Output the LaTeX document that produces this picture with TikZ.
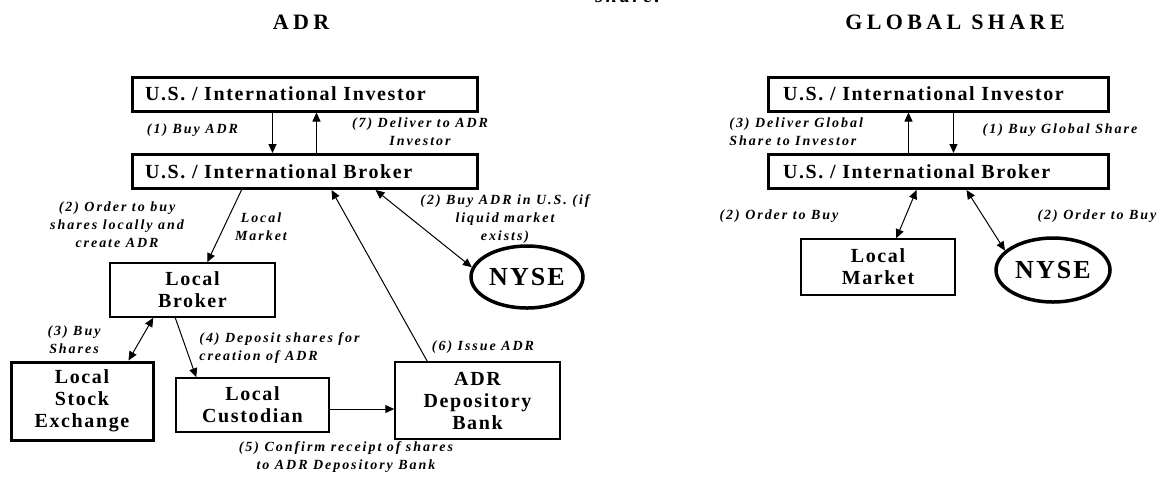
\documentclass[tikz,border=0pt]{standalone}
\usepackage{fontspec}
\setmainfont{Liberation Serif}
\newfontfamily\boxfont[LetterSpace=8]{Liberation Serif}
\newfontfamily\tagfont[LetterSpace=14]{Liberation Serif}
\newfontfamily\headfont[LetterSpace=20]{Liberation Serif}
\usetikzlibrary{arrows.meta, shapes.geometric}

\begin{document}
\begin{tikzpicture}[x = 0.5pt, y = -0.5pt,
    party/.style = {draw, line width = 1.5pt, minimum width = 172.5pt, minimum height = 17pt, inner xsep = 6.5pt, inner ysep = 0pt, text width = 159.5pt, align = left, font = \boxfont\bfseries\fontsize{10}{11}\selectfont},
    desk/.style = {draw, line width = 0.75pt, inner sep = 0pt, align = center, font = \boxfont\bfseries\fontsize{10}{11}\selectfont},
    market/.style = {draw, ellipse, line width = 1.75pt, inner sep = 0pt, minimum width = 56pt, minimum height = 31pt, font = \boxfont\bfseries\fontsize{13}{14}\selectfont},
    tag/.style = {inner sep = 0pt, align = center, font = \tagfont\bfseries\itshape\fontsize{7}{9}\selectfont},
    head/.style = {inner sep = 0pt, font = \headfont\bfseries\fontsize{11}{13}\selectfont},
    flow/.style = {line width = 0.5pt, -{Triangle[length = 4.5pt, width = 4pt]}},
    both/.style = {line width = 0.5pt, {Triangle[length = 4.5pt, width = 4pt]}-{Triangle[length = 4.5pt, width = 4pt]}}]
  \useasboundingbox (0,0) rectangle (1160,479);
  \node[anchor = base west, inner sep = 0pt, font = \tagfont\bfseries\itshape\fontsize{10}{12}\selectfont] (cut) at (595,2.5) {share.};
  \node[head] (adrhead) at (301,22) {ADR};
  \node[head] (gshead) at (955,22) {GLOBAL SHARE};

  % ADR
  \node[party] (inv) at (304.5,94) {U.S. / International Investor};
  \node[party] (brk) at (304.5,171.5) {U.S. / International Broker};
  \node[desk, minimum width = 82.5pt, minimum height = 27pt] (lbrk) at (192.5,290) {Local\\Broker};
  \node[desk, line width = 1.5pt, minimum width = 71pt, minimum height = 39pt] (lse) at (82,401) {Local\\Stock\\Exchange};
  \node[desk, minimum width = 76.5pt, minimum height = 27pt] (cust) at (252.5,405) {Local\\Custodian};
  \node[desk, minimum width = 82.5pt, minimum height = 38.5pt] (bank) at (477.5,400.5) {ADR\\Depository\\Bank};
  \node[market] (nyse) at (527,277) {NYSE};

  \draw[flow] ([xshift = 71pt]inv.south west) -- ([xshift = 71pt]brk.north west);
  \draw[flow] ([xshift = 93pt]brk.north west) -- ([xshift = 93pt]inv.south west);
  \draw[flow] ([xshift = 55.5pt]brk.south west) -- ([xshift = 49pt]lbrk.north west);
  \draw[flow] ([xshift = 16.5pt]bank.north west) -- ([xshift = 100.5pt]brk.south west);
  \draw[both] ([xshift = 122.5pt]brk.south west) -- (nyse.170);
  \draw[both] ([xshift = 59.5pt]lse.north west) -- ([xshift = 22pt]lbrk.south west);
  \draw[flow] ([xshift = 33pt]lbrk.south west) -- ([xshift = 10.5pt]cust.north west);
  \draw[flow] ([yshift = -2pt]cust.east) -- ([yshift = -2pt]cust.east -| bank.west);

  \node[tag] (buy) at (192.5,130) {(1) Buy ADR};
  \node[tag] (deliver) at (420,132) {(7) Deliver to ADR\\Investor};
  \node[tag] (order) at (117,225) {(2) Order to buy\\shares locally and\\create ADR};
  \node[tag] (local) at (261,227) {Local\\Market};
  \node[tag] (liquid) at (505,219) {(2) Buy ADR in U.S. (if\\liquid market\\exists)};
  \node[tag] (shares) at (74,340) {(3) Buy\\Shares};
  \node[tag, anchor = west, align = left] (deposit) at (199,348.5) {(4) Deposit shares for\\creation of ADR};
  \node[tag] (confirm) at (346,457) {(5) Confirm receipt of shares\\to ADR Depository Bank};
  \node[tag] (issue) at (483,347) {(6) Issue ADR};

  % Global share
  \node[party, minimum width = 170pt, inner xsep = 7.5pt, text width = 155pt] (ginv) at (938,94) {U.S. / International Investor};
  \node[party, minimum width = 170pt, inner xsep = 7.5pt, text width = 155pt] (gbrk) at (938,171.5) {U.S. / International Broker};
  \node[desk, minimum width = 77pt, minimum height = 28pt] (lmkt) at (878,267) {Local\\Market};
  \node[market, minimum width = 57pt, minimum height = 32pt] (gnyse) at (1053,270) {NYSE};

  \draw[flow] ([xshift = 71pt]gbrk.north west) -- ([xshift = 71pt]ginv.south west);
  \draw[flow] ([xshift = 93.5pt]ginv.south west) -- ([xshift = 93.5pt]gbrk.north west);
  \draw[both] ([xshift = 75pt]gbrk.south west) -- ([xshift = 48pt]lmkt.north west);
  \draw[both] ([xshift = 100pt]gbrk.south west) -- (gnyse.158);

  \node[tag, anchor = west, align = left] (gdeliver) at (729,131.5) {(3) Deliver Global\\Share to Investor};
  \node[tag] (gbuy) at (1060,130) {(1) Buy Global Share};
  \node[tag] (lorder) at (779,216) {(2) Order to Buy};
  \node[tag] (norder) at (1097,216) {(2) Order to Buy};
\end{tikzpicture}
\end{document}
